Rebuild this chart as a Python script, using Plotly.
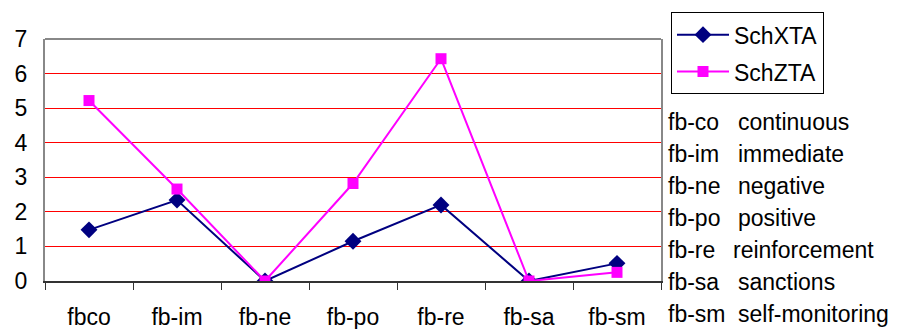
import plotly.graph_objects as go

categories = ["fbco", "fb-im", "fb-ne", "fb-po", "fb-re", "fb-sa", "fb-sm"]
schxta = [1.48, 2.34, 0.0, 1.15, 2.2, 0.0, 0.51]
schzta = [5.22, 2.66, 0.0, 2.82, 6.43, 0.0, 0.25]

key_codes = ["fb-co", "fb-im", "fb-ne", "fb-po", "fb-re", "fb-sa", "fb-sm"]
key_names = ["continuous", "immediate", "negative", "positive",
             "reinforcement", "sanctions", "self-monitoring"]

W, H = 899, 329
L, R, T, B = 45, 238, 37, 48
pw, ph = W - L - R, H - T - B
FONT = "Liberation Sans, Arial, sans-serif"


def px_x(x):
    return (x - L) / pw


def px_y(y):
    return (H - B - y) / ph


fig = go.Figure()
fig.add_trace(go.Scatter(
    x=categories, y=schxta, name="SchXTA", mode="lines+markers",
    legendgroup="a",
    line=dict(color="#000080", width=2),
    marker=dict(symbol="diamond", size=13, color="#000080"),
))
fig.add_trace(go.Scatter(
    x=categories, y=schzta, name="SchZTA", mode="lines+markers",
    legendgroup="b",
    line=dict(color="#FF00FF", width=2),
    marker=dict(symbol="square", size=11, color="#FF00FF"),
))

annotations = []
for i, (code, name) in enumerate(zip(key_codes, key_names)):
    yc = 121.0 + i * 32.2
    annotations.append(dict(
        x=px_x(666), y=px_y(yc), xref="paper", yref="paper",
        text=code, showarrow=False, xanchor="left", yanchor="middle",
        font=dict(family=FONT, size=23, color="black"),
    ))
    annotations.append(dict(
        x=px_x(731 if name == "reinforcement" else 736), y=px_y(yc),
        xref="paper", yref="paper",
        text=name, showarrow=False, xanchor="left", yanchor="middle",
        font=dict(family=FONT, size=23, color="black"),
    ))

fig.update_layout(
    width=W, height=H,
    margin=dict(l=L, r=R, t=T, b=B),
    paper_bgcolor="white", plot_bgcolor="white",
    font=dict(family=FONT, size=23, color="black"),
    showlegend=True,
    legend=dict(
        x=px_x(671), y=px_y(10), xanchor="left", yanchor="top",
        bordercolor="black", borderwidth=1, bgcolor="white",
        font=dict(family=FONT, size=23, color="black"),
        itemwidth=52, tracegroupgap=4,
    ),
    xaxis=dict(
        type="category", range=[-0.5, 6.5], automargin=False,
        showgrid=False, zeroline=False,
        showline=True, linecolor="#333333", linewidth=2,
        ticks="outside", tickson="boundaries", ticklen=7,
        tickcolor="#333333", tickwidth=1,
        ticklabelstandoff=14,
        tickfont=dict(family=FONT, size=23, color="black"),
    ),
    yaxis=dict(
        range=[0, 7], dtick=1, tick0=0, automargin=False,
        showgrid=True, gridcolor="#FF0000", gridwidth=1,
        zeroline=False,
        showline=True, linecolor="#888888", linewidth=2, mirror=True,
        ticks="", ticklabelstandoff=11,
        tickfont=dict(family=FONT, size=23, color="black"),
    ),
    shapes=[dict(
        type="line", xref="paper", yref="paper", x0=0, x1=1, y0=1, y1=1,
        line=dict(color="#888888", width=2), layer="above",
    )],
    annotations=annotations,
)

fig.write_html("out.html")
